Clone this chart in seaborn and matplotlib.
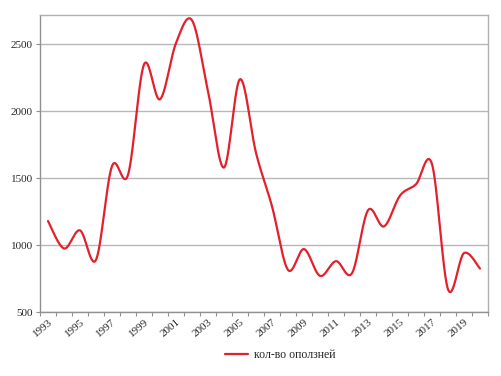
import numpy as np
import pandas as pd
import matplotlib
matplotlib.use("Agg")
import matplotlib.pyplot as plt
import seaborn as sns
from matplotlib.ticker import FixedLocator

years = list(range(1993, 2021))
landslides = [1180, 975, 1110, 890, 1590, 1525, 2350, 2090, 2510, 2680,
              2150, 1580, 2240, 1690, 1290, 815, 970, 770, 880, 790,
              1260, 1140, 1370, 1455, 1605, 670, 940, 825]
series_name = "кол-во оползней"
tick_labels = [str(y) if (y - 1993) % 2 == 0 else "" for y in years]

sns.set_theme(style="white")
plt.rcParams['font.family'] = ['Liberation Serif', 'DejaVu Serif']

# Excel-like smoothed line (Catmull-Rom through the data points)
def smooth(xs, ys, n=30):
    xs = np.asarray(xs, float); ys = np.asarray(ys, float)
    px = np.concatenate([[xs[0]], xs, [xs[-1]]])
    py = np.concatenate([[ys[0]], ys, [ys[-1]]])
    ox, oy = [], []
    t = np.linspace(0, 1, n, endpoint=False)
    for i in range(1, len(px) - 2):
        p0, p1, p2, p3 = (np.array([px[j], py[j]]) for j in (i - 1, i, i + 1, i + 2))
        c1 = p1 + (p2 - p0) / 6
        c2 = p2 - (p3 - p1) / 6
        b = ((1 - t) ** 3)[:, None] * p1 + (3 * (1 - t) ** 2 * t)[:, None] * c1 \
            + (3 * (1 - t) * t ** 2)[:, None] * c2 + (t ** 3)[:, None] * p2
        ox.extend(b[:, 0]); oy.extend(b[:, 1])
    ox.append(xs[-1]); oy.append(ys[-1])
    return np.array(ox), np.array(oy)

pos = np.arange(len(years))
sx, sy = smooth(pos, landslides)
df = pd.DataFrame({"x": sx, "y": sy, "s": series_name})

fig = plt.figure(figsize=(5.02, 3.76), dpi=100)
ax = fig.add_axes([40 / 502, 1 - 312 / 376, 448 / 502, 297 / 376])
sns.lineplot(data=df, x="x", y="y", hue="s", palette=["#E3202B"], lw=1.6,
             sort=False, estimator=None, ax=ax)

ax.set_xlim(-0.5, len(years) - 0.5)
ax.set_ylim(500, 2720)
ax.set_yticks([500, 1000, 1500, 2000, 2500])
ax.yaxis.grid(True, color="#b8b8b8", lw=1.0)
ax.set_axisbelow(True)
ax.set_xticks(pos)
ax.set_xticklabels(tick_labels, rotation=40, ha="right", rotation_mode="anchor", fontsize=8)
ax.tick_params(axis="x", which="major", length=0, pad=4)
ax.xaxis.set_minor_locator(FixedLocator(np.arange(-0.5, len(years), 1.0)))
ax.tick_params(axis="x", which="minor", length=3, color="#909090", width=0.8, direction="out", bottom=True)
ax.tick_params(axis="y", length=3, color="#909090", width=0.8, direction="out", left=True, labelsize=8, pad=2)
for s in ax.spines.values():
    s.set_color("#b0b0b0")
    s.set_linewidth(1.0)
ax.spines["left"].set_color("#909090")
ax.spines["bottom"].set_color("#909090")
ax.set_xlabel("")
ax.set_ylabel("")

leg = ax.legend(loc="upper center", bbox_to_anchor=(0.536, -0.09), frameon=False,
                fontsize=8.5, handlelength=2.0, handletextpad=0.5)
for h in leg.get_lines():
    h.set_linewidth(1.6)

fig.savefig("out.png", dpi=100)
